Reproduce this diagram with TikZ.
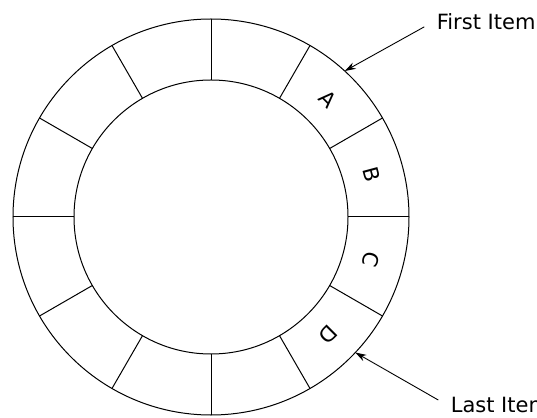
\documentclass[tikz,border=0pt]{standalone}
\usepackage{fontspec}
\setmainfont{DejaVu Sans}
\usepackage{tikz}
\usetikzlibrary{arrows.meta,positioning}

\begin{document}
\begin{tikzpicture}[x=1pt,y=1pt,line width=1pt,
    slot/.style={font=\fontsize{21}{24}\selectfont,inner sep=0pt},
    callout/.style={font=\fontsize{21}{24}\selectfont,anchor=west},
    ptr/.style={-{Stealth[length=11pt,width=7pt]},line width=0.9pt,shorten <=10pt}]
        \useasboundingbox (-211,-200) rectangle (326,217);
        \draw (0,0) circle (198);
        \draw (0,0) circle (137);
        \foreach \a in {0,30,...,330}
          \draw (\a:137) -- (\a:198);
        \node[slot,rotate=-45] (a) at (45:166) {A};
        \node[slot,rotate=-75] (b) at (15:166) {B};
        \node[slot,rotate=-105] (c) at (-15:166) {C};
        \node[slot,rotate=-135] (d) at (-45:166) {D};
        \coordinate (firsttip) at (47.5:198);
        \coordinate (lasttip) at (-43.2:198);
        \node[callout] (first) at (222,195) {First Item};
        \node[callout] (last) at (236,-188) {Last Item};
        \draw[ptr] (first.west) -- (firsttip);
        \draw[ptr] (last.west) -- (lasttip);
      \end{tikzpicture}
\end{document}
